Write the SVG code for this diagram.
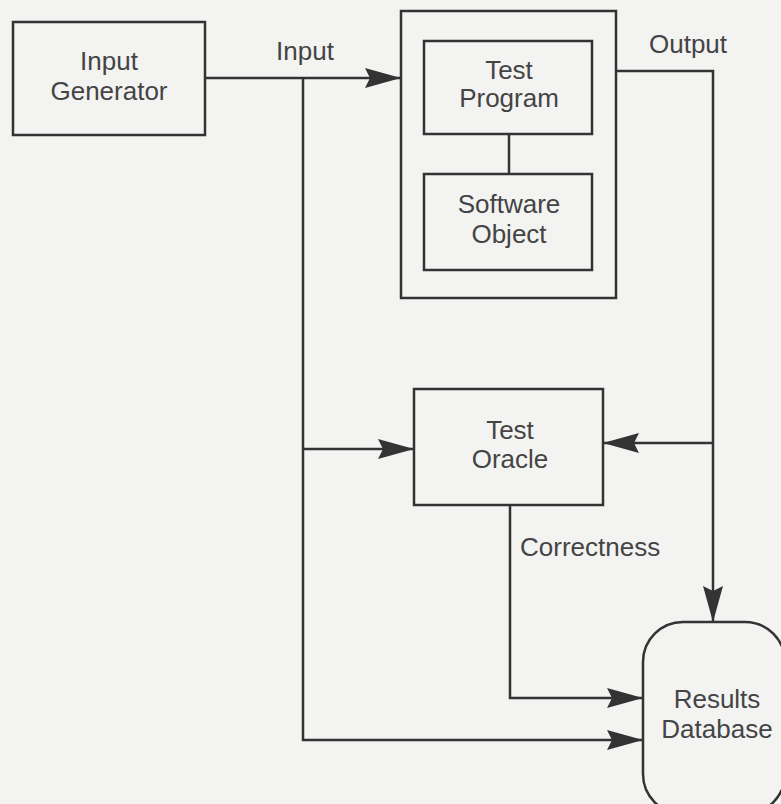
<svg xmlns="http://www.w3.org/2000/svg" width="781" height="804" viewBox="0 0 781 804">
<defs>
<style>
.box{fill:none;stroke:#333;stroke-width:2.5}
.ln{fill:none;stroke:#333;stroke-width:2.5}
.t{font-family:"Liberation Sans",Arial,sans-serif;font-size:26px;fill:#444;text-anchor:middle}
</style>
<marker id="ah" markerUnits="userSpaceOnUse" markerWidth="40" markerHeight="22" refX="36" refY="10" orient="auto">
<path d="M0,0 L36,10 L0,20 L5,10 z" fill="#333"/>
</marker>
</defs>
<rect width="781" height="804" fill="#f3f3f2"/>
<g id="input-generator">
<rect class="box" x="13" y="22" width="192" height="113"/>
<text class="t" x="109" y="70">Input</text>
<text class="t" x="109" y="100">Generator</text>
</g>
<g id="test-harness">
<rect class="box" x="401" y="11" width="215" height="287"/>
</g>
<g id="test-program">
<rect class="box" x="424" y="41" width="168" height="93"/>
<text class="t" x="509" y="79">Test</text>
<text class="t" x="509" y="107">Program</text>
</g>
<g id="software-object">
<rect class="box" x="424" y="174" width="168" height="96"/>
<text class="t" x="509" y="213">Software</text>
<text class="t" x="509" y="243">Object</text>
</g>
<g id="test-oracle">
<rect class="box" x="414" y="389" width="189" height="116"/>
<text class="t" x="510" y="439">Test</text>
<text class="t" x="510" y="468">Oracle</text>
</g>
<g id="results-database">
<rect class="box" x="643" y="622" width="142" height="192" rx="40"/>
<text class="t" x="717" y="708">Results</text>
<text class="t" x="717" y="738">Database</text>
</g>
<g id="connectors">
<path class="ln" d="M205,78 H401" marker-end="url(#ah)"/>
<path class="ln" d="M303,78 V740 H643" marker-end="url(#ah)"/>
<path class="ln" d="M303,449 H414" marker-end="url(#ah)"/>
<path class="ln" d="M616,71 H713 V622" marker-end="url(#ah)"/>
<path class="ln" d="M713,443 H603" marker-end="url(#ah)"/>
<path class="ln" d="M510,505 V698 H643" marker-end="url(#ah)"/>
<path class="ln" d="M509,134 V174"/>
<text class="t" x="305" y="60">Input</text>
<text class="t" x="688" y="53">Output</text>
<text class="t" x="520" y="556" style="text-anchor:start">Correctness</text>
</g>
</svg>
